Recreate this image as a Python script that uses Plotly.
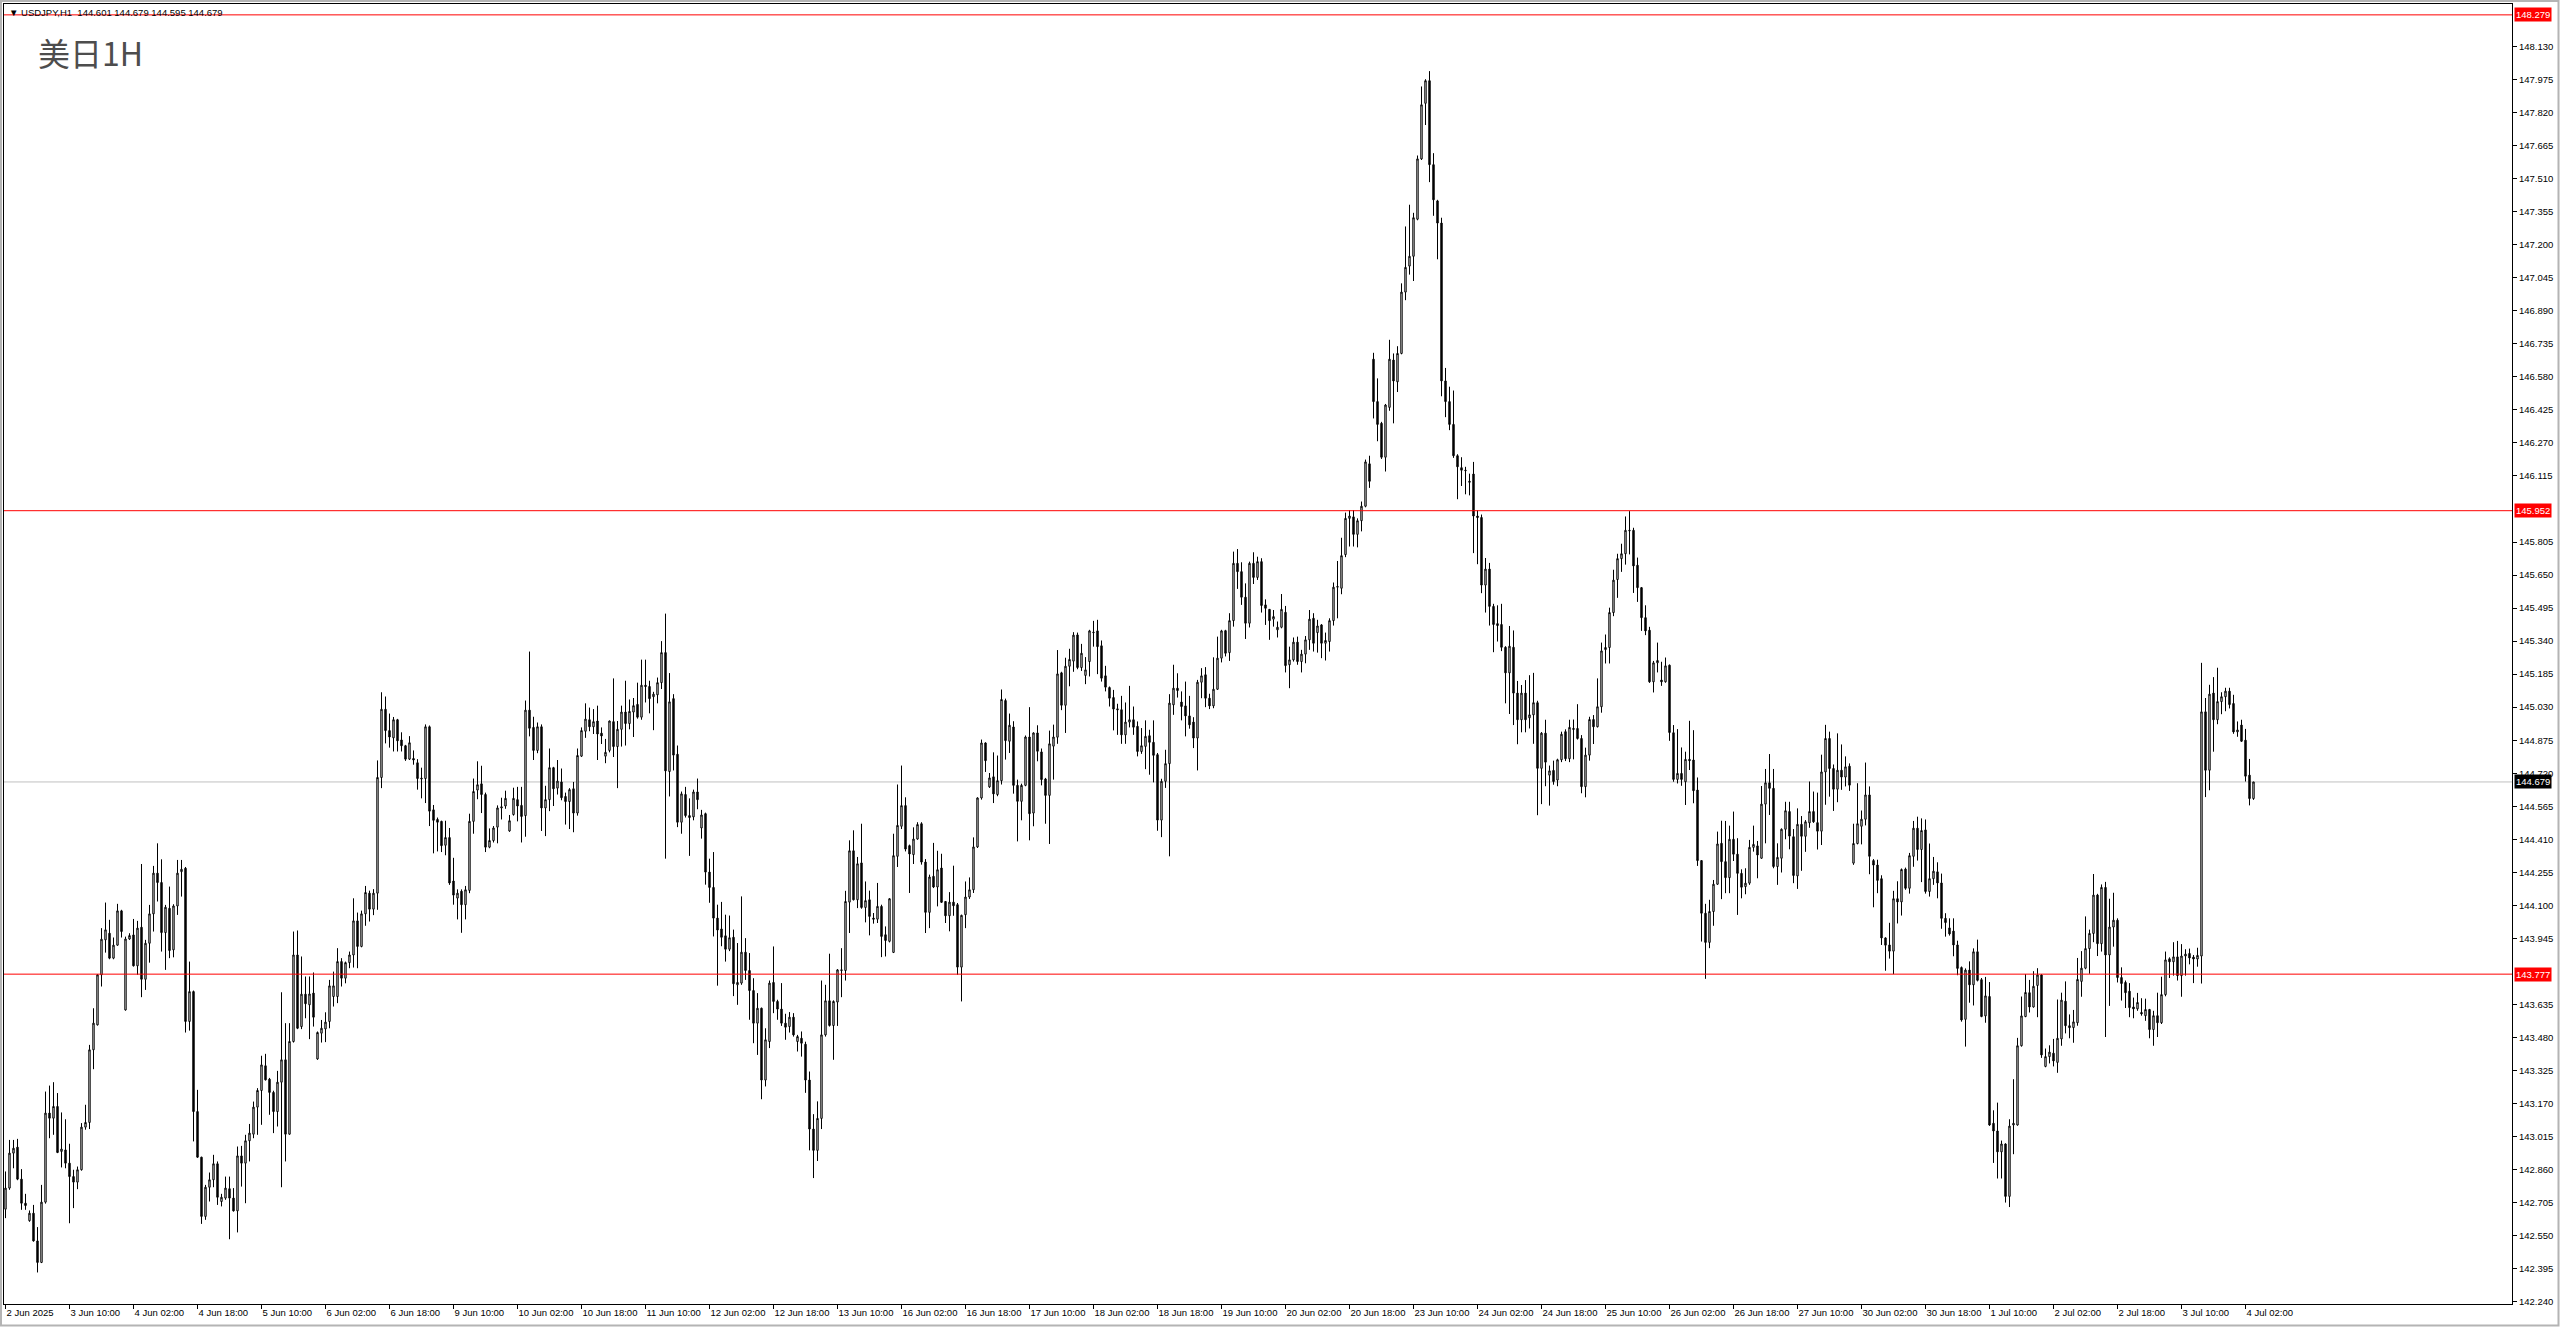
import plotly.graph_objects as go

# ---------------- data (USDJPY H1, one value per hourly bar) ----------------
open_ = [
142.674,142.773,142.937,142.965,142.815,142.702,142.620,142.655,142.525,142.424,
142.707,143.125,143.101,143.156,142.945,142.952,142.890,142.827,142.801,142.859,
143.059,143.081,143.422,143.539,143.774,143.938,143.969,143.852,143.913,144.074,
143.609,143.942,143.961,143.816,143.997,143.753,143.922,144.060,144.251,144.207,
143.972,144.086,143.891,144.097,144.258,144.274,143.555,143.695,143.132,142.918,
142.640,142.777,142.812,142.887,142.710,142.726,142.770,142.726,142.666,142.924,
142.890,142.995,143.026,143.153,143.231,143.347,143.284,143.222,143.132,143.270,
143.375,143.026,143.461,143.867,143.531,143.683,143.633,143.688,143.379,143.500,
143.520,143.555,143.672,143.672,143.836,143.758,143.831,143.867,144.027,143.907,
144.060,144.157,144.082,144.157,144.700,145.020,144.920,144.886,144.971,144.876,
144.849,144.786,144.789,144.769,144.697,144.695,144.938,144.548,144.503,144.494,
144.382,144.418,144.214,144.134,144.166,144.103,144.170,144.494,144.641,144.670,
144.620,144.373,144.404,144.467,144.557,144.566,144.449,144.526,144.596,144.569,
144.521,145.016,144.935,144.827,144.938,144.557,144.596,144.746,144.650,144.679,
144.611,144.587,144.647,144.533,144.800,144.917,144.971,144.938,144.965,144.908,
144.800,144.827,144.962,144.845,144.926,145.007,144.953,145.007,145.043,144.983,
145.133,145.127,145.079,145.088,145.145,145.286,144.728,145.070,144.809,144.490,
144.620,144.521,144.515,144.632,144.463,144.530,144.256,144.184,144.040,143.989,
143.957,143.894,143.950,143.727,143.735,143.880,143.794,143.700,143.547,143.617,
143.280,143.461,143.738,143.649,143.613,143.547,143.531,143.575,143.461,143.476,
143.448,143.280,143.050,142.950,143.100,143.492,143.652,143.536,143.646,143.794,
143.794,144.115,144.356,144.126,144.299,144.090,144.126,144.040,144.035,144.095,
143.962,143.931,143.879,144.330,144.471,144.568,144.380,144.338,144.411,144.483,
144.303,144.067,144.236,144.186,144.275,144.118,144.051,144.115,144.103,143.810,
144.056,144.139,144.173,144.374,144.604,144.862,144.656,144.703,144.620,144.685,
145.061,144.870,144.937,144.663,144.588,144.663,144.890,144.533,144.909,144.820,
144.693,144.616,144.847,144.889,145.191,145.039,145.222,145.246,145.369,145.216,
145.179,145.244,145.382,145.388,145.318,145.177,145.122,145.075,145.022,145.018,
144.900,144.960,144.971,144.940,144.822,144.846,144.896,144.865,144.807,144.500,
144.682,144.765,145.041,145.119,145.054,145.036,144.989,144.960,144.885,145.147,
145.182,145.072,145.036,145.114,145.260,145.389,145.286,145.436,145.705,145.666,
145.546,145.424,145.705,145.639,145.713,145.510,145.489,145.443,145.393,145.405,
145.475,145.229,145.252,145.335,145.244,145.279,145.346,145.447,145.380,145.416,
145.330,145.338,145.436,145.593,145.588,145.746,145.916,145.923,145.841,145.905,
145.973,146.172,146.663,146.464,146.362,146.203,146.437,146.659,146.557,146.690,
146.978,147.100,147.146,147.320,147.603,147.864,147.970,147.576,147.406,147.302,
146.561,146.464,146.357,146.210,146.154,146.142,146.090,146.124,145.927,145.920,
145.603,145.678,145.503,145.422,145.418,145.311,145.191,145.311,145.096,144.971,
145.096,144.980,144.994,145.051,144.743,144.908,144.711,144.733,144.688,144.783,
144.915,144.788,144.925,144.930,144.883,144.657,144.805,144.972,144.938,145.032,
145.300,145.310,145.474,145.629,145.727,145.750,145.860,145.860,145.696,145.591,
145.450,145.391,145.149,145.238,145.157,145.149,145.227,144.910,144.691,144.719,
144.680,144.785,144.782,144.641,144.310,144.063,143.926,144.071,144.199,144.391,
144.305,144.230,144.410,144.340,144.250,144.188,144.204,144.372,144.379,144.321,
144.575,144.675,144.649,144.282,144.321,144.457,144.540,144.422,144.238,144.480,
144.424,144.487,144.540,144.488,144.448,144.726,144.883,144.742,144.645,144.734,
144.702,144.753,144.298,144.390,144.471,144.504,144.618,144.310,144.289,144.225,
143.947,143.914,143.885,144.131,144.116,144.270,144.180,144.330,144.462,144.362,
144.454,144.165,144.225,144.257,144.205,144.039,143.994,143.979,143.914,143.808,
143.565,143.796,143.727,143.882,143.751,143.581,143.672,143.077,143.041,142.943,
142.980,142.734,143.069,143.069,143.441,143.578,143.690,143.623,143.724,143.773,
143.344,143.390,143.406,143.363,143.473,143.650,143.535,143.526,143.549,143.743,
143.805,143.897,143.968,144.148,143.920,144.184,143.867,143.998,144.030,143.761,
143.738,143.697,143.623,143.614,143.597,143.582,143.611,143.517,143.582,143.549,
143.681,143.849,143.835,143.858,143.770,143.862,143.874,143.857,143.848,143.862,
145.008,144.734,145.096,144.971,145.056,145.079,145.105,145.047,144.914,144.946,
144.875,144.711,144.601]

high = [
142.851,142.999,142.999,143.004,142.862,142.746,142.668,142.694,142.590,142.788,
143.226,143.254,143.270,143.219,143.128,143.096,142.981,142.859,142.874,143.078,
143.164,143.445,143.617,143.777,143.993,144.113,144.032,143.949,144.107,144.079,
143.953,143.969,144.036,144.027,144.294,143.938,144.102,144.285,144.391,144.316,
144.102,144.188,144.105,144.313,144.313,144.280,143.836,143.700,143.234,142.920,
142.788,142.846,142.929,142.898,142.746,142.827,142.827,142.773,142.968,142.971,
143.023,143.074,143.179,143.242,143.394,143.403,143.290,143.230,143.323,143.692,
143.547,143.547,143.977,143.982,143.860,143.766,143.766,143.785,143.508,143.562,
143.598,143.750,143.789,143.899,143.852,143.836,143.883,144.133,144.066,144.075,
144.191,144.169,144.176,144.780,145.100,145.080,145.000,144.984,144.975,144.912,
144.853,144.894,144.827,144.786,144.746,144.949,144.944,144.571,144.512,144.497,
144.497,144.463,144.323,144.175,144.175,144.191,144.530,144.695,144.776,144.755,
144.629,144.461,144.472,144.569,144.605,144.638,144.524,144.652,144.656,144.656,
145.061,145.291,144.985,144.958,144.949,144.661,144.836,144.750,144.782,144.742,
144.629,144.650,144.679,144.836,144.935,145.048,145.028,145.021,145.037,144.935,
144.881,144.967,145.165,144.965,145.037,145.154,145.066,145.073,145.145,145.253,
145.253,145.154,145.102,145.169,145.340,145.469,145.190,145.091,144.850,144.634,
144.656,144.602,144.643,144.695,144.548,144.535,144.319,144.350,144.103,144.116,
144.056,144.052,143.986,143.923,144.142,143.946,143.876,143.758,143.688,143.620,
143.523,143.747,143.907,143.657,143.735,143.591,143.599,143.594,143.492,143.508,
143.460,143.320,143.120,143.180,143.747,143.727,143.873,143.654,143.801,143.899,
144.168,144.405,144.452,144.327,144.483,144.212,144.169,144.064,144.205,144.103,
144.001,144.134,144.436,144.667,144.756,144.607,144.385,144.466,144.490,144.490,
144.317,144.244,144.393,144.356,144.342,144.120,144.162,144.286,144.111,144.056,
144.212,144.231,144.419,144.607,144.878,144.865,144.721,144.818,144.803,145.113,
145.070,145.000,144.964,144.690,144.671,144.897,145.030,144.912,144.945,144.836,
144.698,144.920,144.948,145.298,145.196,145.262,145.304,145.382,145.380,145.327,
145.265,145.393,145.435,145.440,145.343,145.224,145.127,145.111,145.046,145.083,
145.052,145.130,145.033,144.963,144.932,144.968,144.924,144.968,144.815,144.694,
144.830,145.091,145.229,145.189,145.104,145.150,145.083,144.983,145.158,145.213,
145.218,145.093,145.264,145.361,145.393,145.393,145.471,145.760,145.772,145.710,
145.611,145.713,145.757,145.736,145.729,145.536,145.490,145.486,145.432,145.561,
145.505,145.314,145.357,145.361,145.299,145.364,145.486,145.471,145.440,145.420,
145.380,145.447,145.615,145.716,145.825,145.943,145.955,145.955,145.916,145.995,
146.192,146.210,146.693,146.573,146.369,146.453,146.754,146.690,146.724,147.019,
147.286,147.388,147.350,147.619,147.943,147.977,148.015,147.630,147.411,147.327,
146.622,146.534,146.516,146.217,146.203,146.158,146.126,146.181,145.954,145.934,
145.730,145.707,145.515,145.508,145.515,145.316,145.411,145.390,145.153,145.134,
145.157,145.180,145.191,145.060,144.913,144.971,144.756,144.779,144.788,144.915,
144.926,144.971,144.972,145.044,144.899,144.840,144.985,144.993,145.165,145.333,
145.371,145.497,145.675,145.750,145.797,145.925,145.950,145.872,145.732,145.594,
145.508,145.407,145.247,145.333,145.243,145.263,145.230,144.946,144.927,144.841,
144.821,144.966,144.922,144.700,144.310,144.107,144.126,144.219,144.446,144.497,
144.496,144.474,144.540,144.415,144.269,144.274,144.407,144.474,144.402,144.660,
144.740,144.810,144.740,144.391,144.461,144.586,144.586,144.458,144.555,144.519,
144.500,144.681,144.634,144.629,144.807,144.947,144.915,144.761,144.907,144.855,
144.799,144.766,144.483,144.673,144.545,144.770,144.658,144.317,144.314,144.241,
143.950,144.018,144.168,144.213,144.273,144.277,144.346,144.496,144.516,144.508,
144.503,144.390,144.327,144.302,144.249,144.063,144.039,144.039,143.934,143.813,
143.804,143.837,143.898,143.939,143.759,143.764,143.740,143.138,143.174,142.996,
142.983,143.096,143.284,143.478,143.672,143.777,143.750,143.791,143.805,143.777,
143.428,143.443,143.473,143.658,143.690,143.743,143.588,143.609,143.853,143.885,
144.048,143.986,144.247,144.154,144.198,144.210,144.131,144.159,144.039,143.809,
143.747,143.735,143.667,143.689,143.664,143.662,143.614,143.605,143.690,143.765,
143.883,143.856,143.927,143.933,143.918,143.894,143.897,143.867,143.901,145.238,
145.073,145.135,145.171,145.215,145.100,145.121,145.121,145.088,144.963,144.971,
144.928,144.787,144.679]

low = [
142.632,142.765,142.866,142.810,142.671,142.671,142.615,142.522,142.377,142.421,
142.700,143.007,143.023,142.937,142.870,142.866,142.608,142.679,142.768,142.855,
143.047,143.050,143.331,143.536,143.719,143.878,143.847,143.847,143.910,143.949,
143.606,143.938,143.813,143.774,143.669,143.703,143.831,143.977,144.118,143.883,
143.797,143.852,143.856,144.055,144.141,143.503,143.512,142.992,142.915,142.605,
142.624,142.710,142.777,142.694,142.687,142.718,142.533,142.663,142.565,142.780,
142.702,142.898,143.007,143.023,143.070,143.278,143.117,143.031,143.062,142.777,
142.898,143.023,143.456,143.519,143.519,143.570,143.472,143.531,143.375,143.456,
143.458,143.523,143.625,143.641,143.719,143.734,143.805,143.808,143.805,143.903,
144.004,144.024,144.054,144.079,144.650,144.860,144.840,144.822,144.822,144.822,
144.778,144.782,144.760,144.643,144.602,144.580,144.472,144.344,144.353,144.350,
144.335,144.196,144.103,144.034,143.971,144.034,144.157,144.436,144.598,144.533,
144.350,144.368,144.395,144.391,144.503,144.553,144.445,144.521,144.494,144.395,
144.422,144.893,144.782,144.814,144.449,144.425,144.542,144.566,144.620,144.593,
144.479,144.458,144.443,144.521,144.796,144.886,144.917,144.904,144.782,144.857,
144.767,144.818,144.796,144.650,144.845,144.850,144.926,144.890,144.976,144.971,
145.052,145.001,144.922,145.048,145.115,144.319,144.611,144.733,144.467,144.436,
144.512,144.332,144.499,144.551,144.413,144.197,144.112,143.954,143.723,143.908,
143.836,143.885,143.674,143.633,143.727,143.750,143.563,143.453,143.398,143.190,
143.250,143.430,143.594,143.563,143.534,143.469,143.503,143.484,143.414,143.390,
143.220,142.950,142.820,142.900,143.050,143.484,143.531,143.375,143.534,143.669,
143.747,143.970,144.123,144.087,144.084,144.020,143.959,144.014,144.017,143.857,
143.860,143.926,143.876,144.280,144.458,144.353,144.158,144.294,144.408,144.291,
143.970,143.993,144.181,144.095,144.111,144.017,143.978,144.051,143.774,143.649,
143.993,144.130,144.158,144.369,144.596,144.726,144.651,144.580,144.612,144.667,
144.784,144.815,144.624,144.400,144.499,144.659,144.405,144.471,144.776,144.663,
144.483,144.388,144.690,144.858,145.016,144.909,145.128,145.196,145.208,145.200,
145.138,145.174,145.314,145.185,145.150,145.104,145.033,144.921,144.900,144.858,
144.858,144.935,144.900,144.799,144.811,144.739,144.713,144.677,144.450,144.420,
144.651,144.330,144.994,145.075,144.968,144.893,144.929,144.838,144.733,145.072,
145.030,145.021,145.025,145.111,145.240,145.268,145.247,145.408,145.585,145.510,
145.350,145.404,145.608,145.627,145.474,145.416,145.346,145.408,145.357,145.400,
145.193,145.119,145.244,145.229,145.193,145.236,145.299,145.291,145.286,145.260,
145.249,145.291,145.413,145.447,145.560,145.734,145.784,145.784,145.780,145.855,
145.968,146.059,146.385,146.278,146.195,146.136,146.421,146.362,146.509,146.686,
146.940,147.060,147.030,147.315,147.598,147.762,147.494,147.336,147.132,146.489,
146.391,146.330,146.200,146.006,146.068,146.029,146.024,145.753,145.701,145.565,
145.474,145.413,145.288,145.338,145.293,145.048,144.998,144.946,144.856,144.912,
144.912,144.930,144.858,144.523,144.575,144.659,144.568,144.666,144.659,144.772,
144.777,144.772,144.785,144.878,144.626,144.607,144.779,144.857,144.935,145.004,
145.235,145.235,145.457,145.543,145.665,145.699,145.747,145.566,145.524,145.388,
145.368,145.144,145.099,145.193,145.130,145.145,144.872,144.680,144.672,144.661,
144.571,144.735,144.579,144.285,143.930,143.755,143.899,144.004,144.196,144.129,
144.157,144.157,144.308,144.055,144.133,144.152,144.196,144.352,144.227,144.318,
144.391,144.524,144.274,144.196,144.254,144.410,144.363,144.204,144.177,144.262,
144.351,144.464,144.487,144.362,144.383,144.572,144.610,144.543,144.584,144.642,
144.658,144.637,144.290,144.386,144.386,144.475,144.246,144.091,144.157,143.914,
143.793,143.850,143.777,144.015,144.052,144.173,144.155,144.281,144.310,144.209,
144.155,144.141,144.196,144.133,143.990,143.953,143.958,143.861,143.772,143.554,
143.437,143.643,143.630,143.743,143.575,143.549,143.065,142.891,142.818,142.818,
142.705,142.684,142.932,143.066,143.437,143.575,143.597,143.620,143.575,143.384,
143.340,143.358,143.344,143.314,143.441,143.499,143.476,143.455,143.535,143.671,
143.800,143.779,143.927,143.862,143.883,143.482,143.628,143.906,143.738,143.653,
143.618,143.575,143.570,143.605,143.582,143.558,143.476,143.441,143.482,143.543,
143.673,143.759,143.770,143.747,143.671,143.770,143.823,143.735,143.812,143.733,
144.608,144.640,144.821,144.950,144.997,145.011,145.024,144.905,144.891,144.867,
144.681,144.569,144.595]

close = [
142.773,142.937,142.960,142.815,142.702,142.691,142.655,142.525,142.424,142.707,
143.125,143.101,143.156,142.940,142.956,142.890,142.827,142.801,142.859,143.059,
143.081,143.422,143.547,143.774,143.941,143.985,143.852,143.913,144.074,143.977,
143.942,143.958,143.816,143.993,143.753,143.922,144.060,144.251,144.207,143.972,
144.091,143.888,144.097,144.251,144.269,143.555,143.695,143.132,142.918,142.640,
142.777,142.812,142.887,142.730,142.730,142.773,142.726,142.666,142.924,142.890,
142.995,143.031,143.153,143.231,143.351,143.281,143.222,143.132,143.270,143.375,
143.026,143.461,143.867,143.523,143.683,143.638,143.684,143.575,143.503,143.523,
143.552,143.722,143.722,143.836,143.758,143.831,143.867,144.027,143.907,144.060,
144.160,144.082,144.157,144.700,145.020,144.920,144.890,144.971,144.872,144.849,
144.786,144.863,144.782,144.695,144.694,144.938,144.542,144.499,144.490,144.380,
144.418,144.205,144.148,144.157,144.103,144.173,144.494,144.634,144.666,144.620,
144.373,144.404,144.463,144.557,144.562,144.602,144.497,144.602,144.566,144.517,
145.016,144.931,144.827,144.938,144.557,144.596,144.746,144.647,144.683,144.605,
144.587,144.643,144.533,144.803,144.920,144.974,144.938,144.962,144.904,144.895,
144.818,144.965,144.845,144.926,145.007,144.953,145.010,145.037,144.983,145.133,
145.127,145.070,145.091,145.145,145.286,144.731,145.055,144.805,144.490,144.623,
144.521,144.512,144.632,144.596,144.524,144.256,144.184,144.040,143.984,143.950,
143.894,143.948,143.732,143.738,143.880,143.794,143.700,143.547,143.617,143.280,
143.469,143.735,143.649,143.613,143.547,143.528,143.575,143.492,143.484,143.453,
143.280,143.050,142.950,143.100,143.492,143.652,143.536,143.649,143.797,143.797,
144.118,144.356,144.126,144.295,144.090,144.122,144.048,144.035,144.095,143.954,
143.935,144.131,144.333,144.475,144.568,144.364,144.341,144.411,144.479,144.303,
144.067,144.233,144.186,144.267,144.114,144.051,144.115,144.098,143.810,144.053,
144.139,144.173,144.374,144.604,144.862,144.779,144.698,144.623,144.685,145.066,
144.873,144.945,144.663,144.588,144.663,144.890,144.530,144.909,144.823,144.690,
144.616,144.858,144.890,145.186,145.039,145.222,145.254,145.368,145.216,145.283,
145.205,145.388,145.380,145.314,145.166,145.124,145.072,145.021,145.018,144.900,
144.960,144.971,144.936,144.822,144.849,144.893,144.865,144.804,144.500,144.682,
144.765,145.049,145.119,145.108,145.033,144.989,144.947,144.885,145.147,145.177,
145.072,145.036,145.114,145.260,145.388,145.283,145.436,145.705,145.666,145.546,
145.424,145.705,145.639,145.713,145.507,145.494,145.436,145.455,145.405,145.489,
145.225,145.252,145.335,145.244,145.279,145.346,145.443,145.330,145.411,145.330,
145.343,145.436,145.593,145.596,145.741,145.916,145.927,145.841,145.905,145.973,
146.181,146.090,146.464,146.357,146.203,146.448,146.663,146.561,146.690,146.978,
147.094,147.146,147.327,147.603,147.857,147.970,147.576,147.411,147.302,146.561,
146.464,146.357,146.210,146.158,146.142,146.140,146.086,145.927,145.920,145.603,
145.678,145.503,145.418,145.413,145.311,145.191,145.316,145.096,144.971,145.096,
144.971,144.994,145.051,144.743,144.908,144.772,144.731,144.681,144.783,144.903,
144.788,144.935,144.930,144.883,144.657,144.805,144.972,144.938,145.032,145.294,
145.310,145.474,145.626,145.727,145.750,145.860,145.858,145.693,145.591,145.450,
145.388,145.149,145.238,145.249,145.149,145.224,144.911,144.691,144.719,144.691,
144.785,144.779,144.638,144.310,144.063,143.926,144.071,144.199,144.388,144.305,
144.230,144.410,144.340,144.250,144.185,144.204,144.372,144.386,144.336,144.575,
144.675,144.649,144.282,144.325,144.457,144.544,144.425,144.240,144.480,144.424,
144.492,144.540,144.492,144.448,144.726,144.883,144.742,144.645,144.734,144.702,
144.750,144.664,144.390,144.483,144.504,144.618,144.330,144.289,144.217,143.947,
143.913,143.885,144.131,144.116,144.268,144.180,144.333,144.462,144.362,144.451,
144.165,144.225,144.260,144.205,144.039,144.019,143.966,143.914,143.804,143.562,
143.796,143.727,143.882,143.748,143.578,143.675,143.069,143.041,142.943,142.980,
142.734,143.064,143.077,143.441,143.581,143.691,143.623,143.720,143.773,143.398,
143.390,143.411,143.370,143.476,143.655,143.535,143.526,143.553,143.752,143.805,
143.897,143.968,144.148,143.920,144.184,143.867,143.998,144.030,143.761,143.733,
143.690,143.620,143.614,143.644,143.591,143.611,143.517,143.582,143.549,143.681,
143.844,143.835,143.858,143.770,143.862,143.871,143.853,143.848,143.865,145.008,
144.734,145.091,144.971,145.056,145.079,145.105,145.042,144.914,144.923,144.870,
144.706,144.601,144.679]

assert len(open_) == len(high) == len(low) == len(close) == 563

# time-axis labels, one every 16 hourly bars (first bar = 2 Jun 18:00)
time_labels = [
    "2 Jun 2025", "3 Jun 10:00", "4 Jun 02:00", "4 Jun 18:00", "5 Jun 10:00",
    "6 Jun 02:00", "6 Jun 18:00", "9 Jun 10:00", "10 Jun 02:00", "10 Jun 18:00",
    "11 Jun 10:00", "12 Jun 02:00", "12 Jun 18:00", "13 Jun 10:00", "16 Jun 02:00",
    "16 Jun 18:00", "17 Jun 10:00", "18 Jun 02:00", "18 Jun 18:00", "19 Jun 10:00",
    "20 Jun 02:00", "20 Jun 18:00", "23 Jun 10:00", "24 Jun 02:00", "24 Jun 18:00",
    "25 Jun 10:00", "26 Jun 02:00", "26 Jun 18:00", "27 Jun 10:00", "30 Jun 02:00",
    "30 Jun 18:00", "1 Jul 10:00", "2 Jul 02:00", "2 Jul 18:00", "3 Jul 10:00",
    "4 Jul 02:00",
]
bars_per_label = 16

price_ticks = [
    142.240, 142.395, 142.550, 142.705, 142.860, 143.015, 143.170, 143.325,
    143.480, 143.635, 143.945, 144.100, 144.255, 144.410, 144.565, 144.720,
    144.875, 145.030, 145.185, 145.340, 145.495, 145.650, 145.805, 146.115,
    146.270, 146.425, 146.580, 146.735, 146.890, 147.045, 147.200, 147.355,
    147.510, 147.665, 147.820, 147.975, 148.130,
]

red_levels = [148.279, 145.952, 143.777]
bid_price = 144.679
header = "USDJPY,H1\u00a0\u00a0144.601 144.679 144.595 144.679"
chart_name = "美日1H"

# ---------------- figure ----------------
W, H = 2560, 1327
ML, MR, MT, MB = 4, 48, 4, 23
PW, PH = W - ML - MR, H - MT - MB

bars = list(range(len(close)))
fig = go.Figure(go.Candlestick(
    x=bars, open=open_, high=high, low=low, close=close,
    increasing=dict(line=dict(color="black", width=1), fillcolor="white"),
    decreasing=dict(line=dict(color="black", width=1), fillcolor="black"),
    whiskerwidth=0, hoverinfo="skip", showlegend=False,
))

tick_font = dict(family="Liberation Sans, Arial, sans-serif", size=9.5, color="black")

shapes = []
shapes.append(dict(type="line", xref="paper", x0=0, x1=1, yref="y", y0=bid_price, y1=bid_price,
                   line=dict(color="#c0c0c0", width=1), layer="below"))
for lv in red_levels:
    shapes.append(dict(type="line", xref="paper", x0=0, x1=1, yref="y", y0=lv, y1=lv,
                       line=dict(color="#ff0000", width=1), layer="above"))
shapes.append(dict(type="rect", xref="paper", yref="paper",
                   x0=-(ML - 1) / PW, x1=1 + (MR - 1.5) / PW,
                   y0=-(MB - 1.5) / PH, y1=1 + (MT - 1) / PH,
                   line=dict(color="#b4b4b4", width=2), layer="below"))

annotations = []
for lv in red_levels:
    annotations.append(dict(xref="paper", x=1, xanchor="left", xshift=2, yref="y", y=lv,
                            yanchor="middle", text=f"{lv:.3f}", showarrow=False,
                            bgcolor="#ff0000", borderpad=1,
                            font=dict(family=tick_font["family"], size=9.5, color="white")))
annotations.append(dict(xref="paper", x=1, xanchor="left", xshift=2, yref="y", y=bid_price,
                        yanchor="middle", text=f"{bid_price:.3f}", showarrow=False,
                        bgcolor="black", borderpad=1,
                        font=dict(family=tick_font["family"], size=9.5, color="white")))
annotations.append(dict(xref="paper", x=0, xanchor="left", xshift=3, yref="paper", y=1,
                        yanchor="top", yshift=-1, text="\u25bc " + header, showarrow=False,
                        font=dict(family=tick_font["family"], size=9.5, color="black")))
annotations.append(dict(xref="paper", x=0, xanchor="left", xshift=32, yref="paper", y=1,
                        yanchor="top", yshift=-23, text=chart_name, showarrow=False,
                        font=dict(family="Noto Sans CJK SC, sans-serif", size=32, color="#4d4d4d")))

fig.update_layout(
    width=W, height=H,
    margin=dict(l=ML, r=MR, t=MT, b=MB, pad=0),
    paper_bgcolor="white", plot_bgcolor="white",
    boxgap=0.5,
    shapes=shapes, annotations=annotations,
    xaxis=dict(
        range=[-0.375, 626.625], rangeslider=dict(visible=False),
        showgrid=False, zeroline=False,
        tickmode="array",
        tickvals=[k * bars_per_label for k in range(len(time_labels))],
        ticktext=time_labels,
        ticks="outside", ticklen=4, tickcolor="black", tickwidth=1,
        ticklabelposition="outside right",
        showline=True, linecolor="black", linewidth=1, mirror=True,
        tickfont=tick_font, fixedrange=True,
    ),
    yaxis=dict(
        side="right", range=[142.229, 148.330],
        showgrid=False, zeroline=False,
        tickmode="array", tickvals=price_ticks,
        ticktext=[f"{v:.3f}" for v in price_ticks],
        ticks="outside", ticklen=4, tickcolor="black", tickwidth=1,
        showline=True, linecolor="black", linewidth=1, mirror=True,
        tickfont=tick_font, fixedrange=True,
    ),
)

fig.write_html(
    "out.html",
    config={"displayModeBar": False},
    post_script="document.body.style.margin='0px';document.body.style.overflow='hidden';",
)
